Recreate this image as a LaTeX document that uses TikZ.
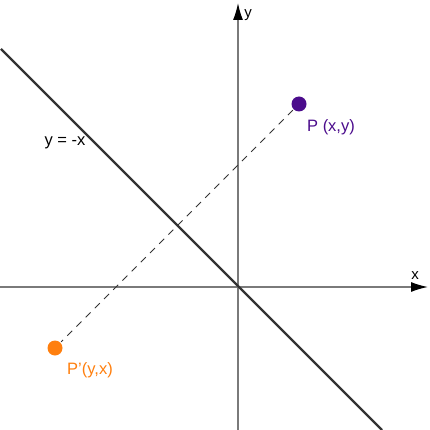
\documentclass[tikz,border=0pt]{standalone}
\usepackage{fontspec}
\setmainfont{Liberation Sans}
\usetikzlibrary{arrows.meta}
\definecolor{axisgray}{HTML}{7A7A7A}
\definecolor{linegray}{HTML}{333333}
\definecolor{ppurple}{HTML}{4B0C8C}
\definecolor{porange}{HTML}{FF7F0E}
\tikzset{
  axis/.style={draw=axisgray, line width=1.4pt, -{Latex[length=17pt,width=10pt,black]}},
  dot/.style={circle, inner sep=0pt, minimum size=15pt},
  lbl/.style={font=\fontsize{16.5pt}{19pt}\selectfont, inner sep=0pt},
  axlbl/.style={font=\fontsize{15pt}{17pt}\selectfont, inner sep=0pt},
}
\begin{document}
\begin{tikzpicture}[x=1pt,y=-1pt]
\useasboundingbox (0,0) rectangle (429,430);
% axes
\coordinate (xl) at (0,287);
\coordinate (xr) at (428,287);
\coordinate (yb) at (238,430);
\coordinate (yt) at (238,3);
\draw[axis] (xl) -- (xr);
\draw[axis] (yb) -- (yt);
\node[axlbl] (xlab) at (415,276) {x};
\node[axlbl] (ylab) at (248,15) {y};
% line y=-x
\coordinate (d1) at (1,49);
\coordinate (d2) at (382,430);
\draw[linegray, line width=2.4pt] (d1) -- (d2);
\node[lbl] (eq) at (65,143) {y = -x};
% points
\node[dot, fill=ppurple] (P) at (299,104) {};
\node[dot, fill=porange] (Pp) at (55,348) {};
\draw[linegray, line width=1pt, dash pattern=on 7pt off 6pt, shorten <=1pt, shorten >=1pt] (P) -- (Pp);
\node[lbl, text=ppurple] (Plab) at (331,127) {P (x,y)};
\node[lbl, text=porange] (Pplab) at (90,370) {P'(y,x)};
\end{tikzpicture}
\end{document}
